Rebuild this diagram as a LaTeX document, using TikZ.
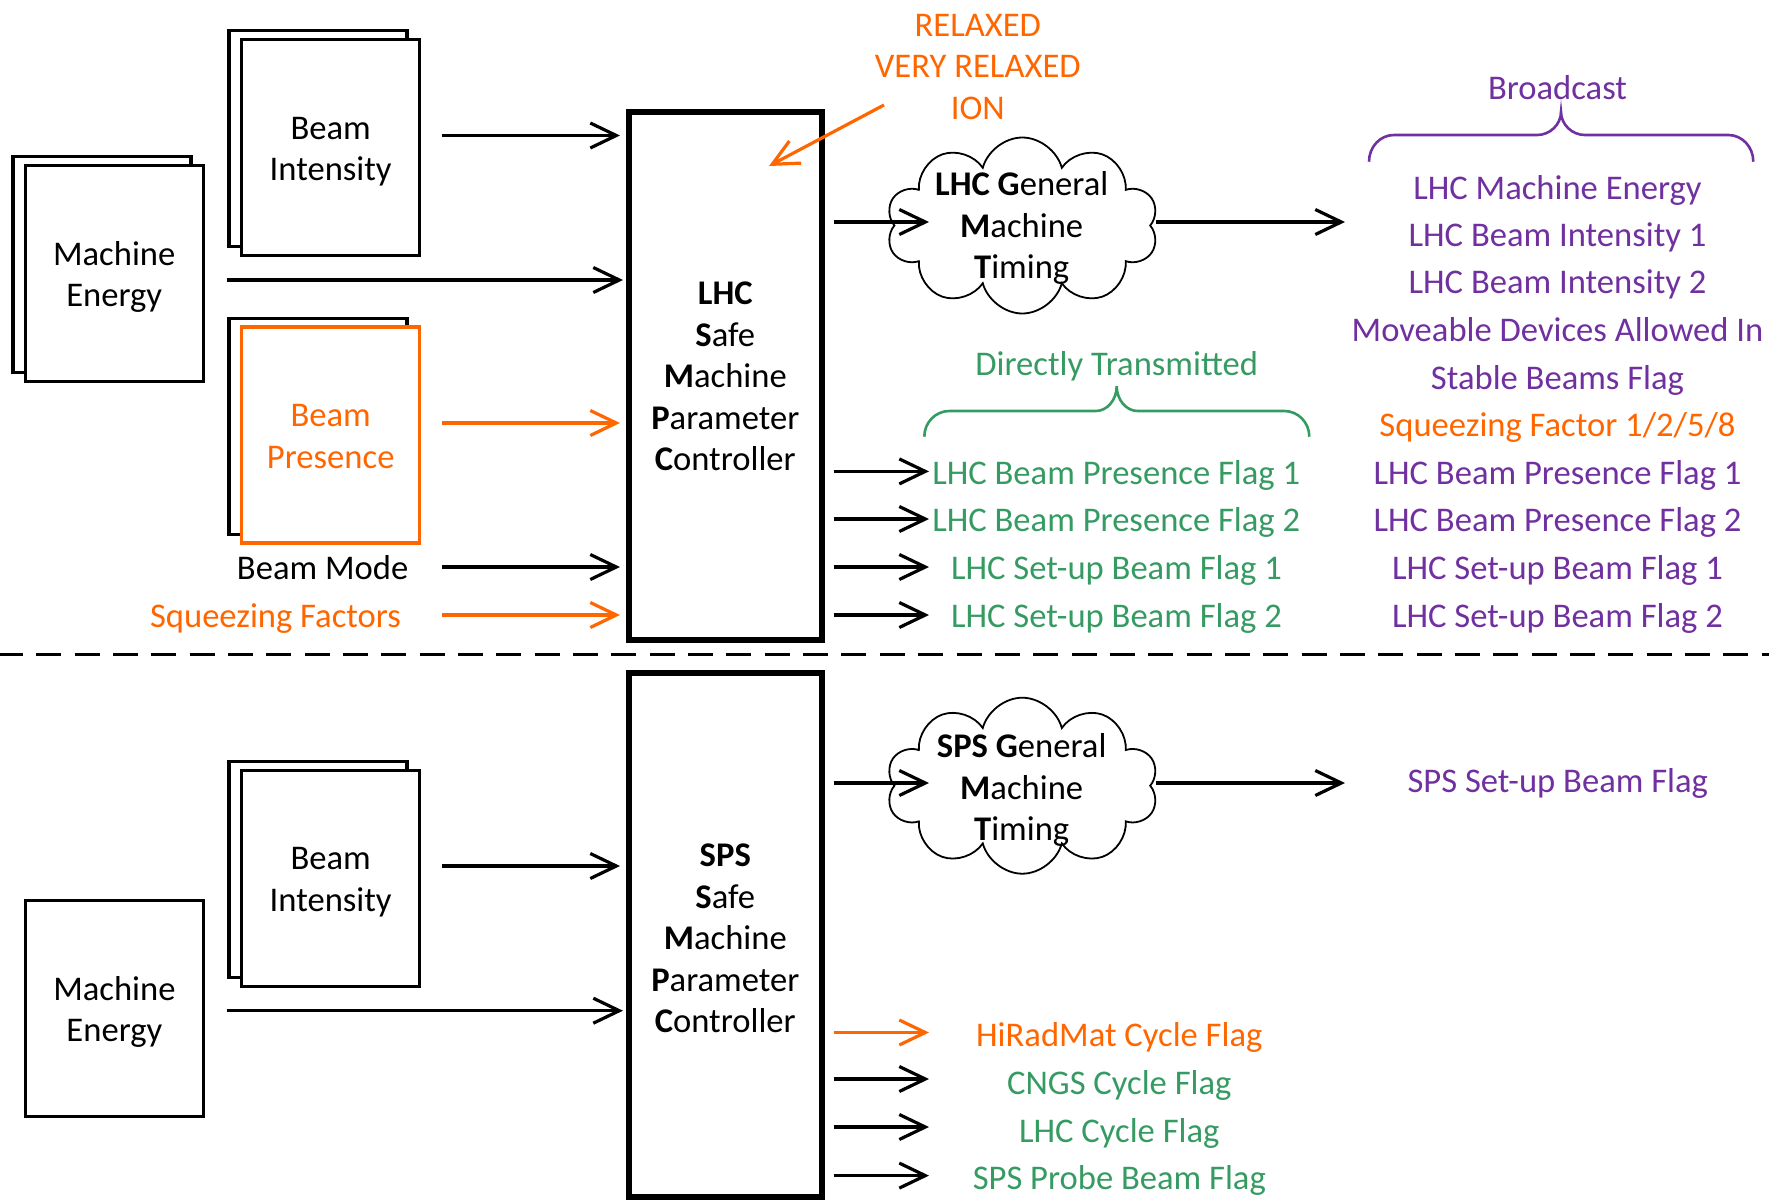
\documentclass[tikz,border=0pt]{standalone}
\usepackage{fontspec}
\setmainfont{Carlito}
\usetikzlibrary{arrows.meta,shapes.symbols,calc}
\definecolor{orng}{RGB}{255,102,0}
\definecolor{grn}{RGB}{54,155,99}
\definecolor{purp}{RGB}{112,48,160}
\newcommand{\fsz}{\fontsize{17.3pt}{20.75pt}\selectfont}
\newcommand{\pgstrut}{\rule{0pt}{18.6pt}}
\newcommand{\lstrut}{\rule{0pt}{18.2pt}}
\newcommand{\sstrut}{\rule{0pt}{20.7pt}}
\begin{document}
\begin{tikzpicture}[x=0.5pt,y=-0.5pt,
  every node/.style={font=\fsz, inner sep=0pt, outer sep=0pt},
  pg/.style={draw, line width=1.6pt, fill=white, minimum width=89pt, minimum height=108pt, align=center},
  ctrl/.style={draw, line width=3pt, minimum width=96.7pt, align=center},
  arr/.style={line width=1.6pt, -{Straight Barb[length=13pt,width=12.5pt]}},
  brace/.style={line width=1.3pt},
  cld/.style={draw, cloud, cloud puffs=10, cloud ignores aspect, minimum width=136pt, minimum height=88pt, line width=0.9pt},
  lbl/.style={align=center}]
\useasboundingbox (0,0) rectangle (1769,1201);

% ---------------- top section ----------------
% Machine Energy
\node[pg] (me1b) at (102,264.5) {};
\node[pg] (me1) at (114.2,273.5) {\pgstrut Machine\\\strut Energy};
% Beam Intensity
\node[pg] (bi1b) at (318,138.2) {};
\node[pg] (bi1) at (330.7,147.8) {\pgstrut Beam\\\strut Intensity};
% Beam Presence
\node[pg] (bp1b) at (318,426.5) {};
\node[pg, draw=orng, text=orng] (bp1) at (330.7,435) {\pgstrut Beam\\\strut Presence};
% Beam Mode / Squeezing Factors
\node (bm) at (322.6,571.5) {\strut Beam Mode};
\node[text=orng] (sqf) at (275.5,619.5) {\strut Squeezing Factors};

% LHC controller
\node[ctrl, minimum height=264.25pt] (lhc) at (725.3,375.75)
  {\lstrut\textbf{LHC}\\\strut\textbf{S}afe\\\strut\textbf{M}achine\\\strut\textbf{P}arameter\\\strut\textbf{C}ontroller};

% input arrows
\draw[arr, shorten >=2.8pt] (226.7,280) coordinate (meA) -- (meA -| lhc.west);
\draw[arr, shorten >=4.3pt] (442,135.5) coordinate (biA) -- (biA -| lhc.west);
\draw[arr, orng, shorten >=4.3pt] (442,423) coordinate (bpA) -- (bpA -| lhc.west);
\draw[arr, shorten >=4.3pt] (442,567) coordinate (bmA) -- (bmA -| lhc.west);
\draw[arr, orng, shorten >=4.3pt] (442,615) coordinate (sqA) -- (sqA -| lhc.west);

% relaxed text and arrow
\node[lbl, text=orng] (rlx) at (977.8,69.2) {\strut RELAXED\\\strut VERY RELAXED\\\strut ION};
\coordinate (rlxA) at (884,105);
\coordinate (rlxB) at (769,166);
\draw[arr, orng] (rlxA) -- (rlxB);

% LHC GMT cloud
\node[cld] (lgmt) at (1022.3,225.5) {};
\node[lbl] (lgmtt) at (1021.7,228.8) {\strut\textbf{LHC G}eneral\\\strut\textbf{M}achine\\\strut\textbf{T}iming};
\draw[arr, shorten <=5.75pt] (lhc.east |- 0,222) -- (929,222) coordinate (lgIn);
\coordinate (lgOut) at (1156,222);
\coordinate (bcEnd) at (1345,222);
\draw[arr] (lgOut) -- (bcEnd);

% Broadcast
\node[text=purp] (bc) at (1557.5,91.5) {\strut Broadcast};
\draw[brace, purp] (1369,161.7) .. controls (1369,147) and (1380,135) .. (1394,135)
  -- (1537,135) .. controls (1550,135) and (1561,124.6) .. (1561,111.7)
  .. controls (1561,124.6) and (1572,135) .. (1585,135)
  -- (1728.3,135) .. controls (1742.3,135) and (1753.3,147) .. (1753.3,161.7);
\node[text=purp] (p1) at (1557.5,190.8) {\strut LHC Machine Energy};
\node[text=purp] (p2) at (1557.5,238.5) {\strut LHC Beam Intensity 1};
\node[text=purp] (p3) at (1557.5,285.6) {\strut LHC Beam Intensity 2};
\node[text=purp] (p4) at (1557.5,333.2) {\strut Moveable Devices Allowed In};
\node[text=purp] (p5) at (1557.5,380.7) {\strut Stable Beams Flag};
\node[text=orng] (p6) at (1557.5,428.2) {\strut Squeezing Factor 1/2/5/8};
\node[text=purp] (p7) at (1557.5,475.7) {\strut LHC Beam Presence Flag 1};
\node[text=purp] (p8) at (1557.5,523.3) {\strut LHC Beam Presence Flag 2};
\node[text=purp] (p9) at (1557.5,571.5) {\strut LHC Set-up Beam Flag 1};
\node[text=purp] (p10) at (1557.5,619.5) {\strut LHC Set-up Beam Flag 2};

% Directly transmitted
\node[text=grn] (dt) at (1116.7,367.5) {\strut Directly Transmitted};
\draw[brace, grn] (924.3,436.7) .. controls (924.3,422.5) and (935.5,411) .. (949.3,411)
  -- (1095.7,411) .. controls (1107.3,411) and (1116.7,399.8) .. (1116.7,386)
  .. controls (1116.7,399.8) and (1126.1,411) .. (1137.7,411)
  -- (1284.3,411) .. controls (1298.1,411) and (1309.3,422.5) .. (1309.3,436.7);
\node[text=grn] (g1) at (1116.2,475.7) {\strut LHC Beam Presence Flag 1};
\node[text=grn] (g2) at (1116.2,523.3) {\strut LHC Beam Presence Flag 2};
\node[text=grn] (g3) at (1116.5,571.5) {\strut LHC Set-up Beam Flag 1};
\node[text=grn] (g4) at (1116.5,619.5) {\strut LHC Set-up Beam Flag 2};
\draw[arr, shorten <=5.75pt] (lhc.east |- 0,471.4) -- (929,471.4) coordinate (g1A);
\draw[arr, shorten <=5.75pt] (lhc.east |- 0,519) -- (929,519) coordinate (g2A);
\draw[arr, shorten <=5.75pt] (lhc.east |- 0,567) -- (929,567) coordinate (g3A);
\draw[arr, shorten <=5.75pt] (lhc.east |- 0,615) -- (929,615) coordinate (g4A);

% separator
\draw[line width=1.5pt, dash pattern=on 12.5pt off 6.67pt, dash phase=1pt] (0,654.5) coordinate (sepL) -- (1769,654.5) coordinate (sepR);

% ---------------- bottom section ----------------
\node[pg] (bi2b) at (318,869.2) {};
\node[pg] (bi2) at (330.7,878.2) {\pgstrut Beam\\\strut Intensity};
\node[pg] (me2) at (114.4,1008.6) {\pgstrut Machine\\\strut Energy};

\node[ctrl, minimum height=262pt] (sps) at (725.3,935.2)
  {\sstrut\textbf{SPS}\\\strut\textbf{S}afe\\\strut\textbf{M}achine\\\strut\textbf{P}arameter\\\strut\textbf{C}ontroller};

\draw[arr, shorten >=4.3pt] (442,866) coordinate (bi2A) -- (bi2A -| sps.west);
\draw[arr, shorten >=2.8pt] (226.7,1010.7) coordinate (me2A) -- (me2A -| sps.west);

\node[cld] (sgmt) at (1022.3,785.7) {};
\node[lbl] (sgmtt) at (1021.7,790.8) {\strut\textbf{SPS G}eneral\\\strut\textbf{M}achine\\\strut\textbf{T}iming};
\draw[arr, shorten <=5.75pt] (sps.east |- 0,783) -- (929,783) coordinate (sgIn);
\coordinate (sgOut) at (1156,783);
\coordinate (sbEnd) at (1345,783);
\draw[arr] (sgOut) -- (sbEnd);
\node[text=purp] (ssb) at (1557.8,783.8) {\strut SPS Set-up Beam Flag};

\node[text=orng] (s1) at (1119.3,1038.3) {\strut HiRadMat Cycle Flag};
\node[text=grn] (s2) at (1119.3,1086.3) {\strut CNGS Cycle Flag};
\node[text=grn] (s3) at (1119.3,1133.8) {\strut LHC Cycle Flag};
\node[text=grn] (s4) at (1119.3,1181.2) {\strut SPS Probe Beam Flag};
\draw[arr, orng, shorten <=5.75pt] (sps.east |- 0,1032.5) -- (929,1032.5) coordinate (s1A);
\draw[arr, shorten <=5.75pt] (sps.east |- 0,1079) -- (929,1079) coordinate (s2A);
\draw[arr, shorten <=5.75pt] (sps.east |- 0,1127) -- (929,1127) coordinate (s3A);
\draw[arr, shorten <=5.75pt] (sps.east |- 0,1175.6) -- (929,1175.6) coordinate (s4A);
\end{tikzpicture}
\end{document}
